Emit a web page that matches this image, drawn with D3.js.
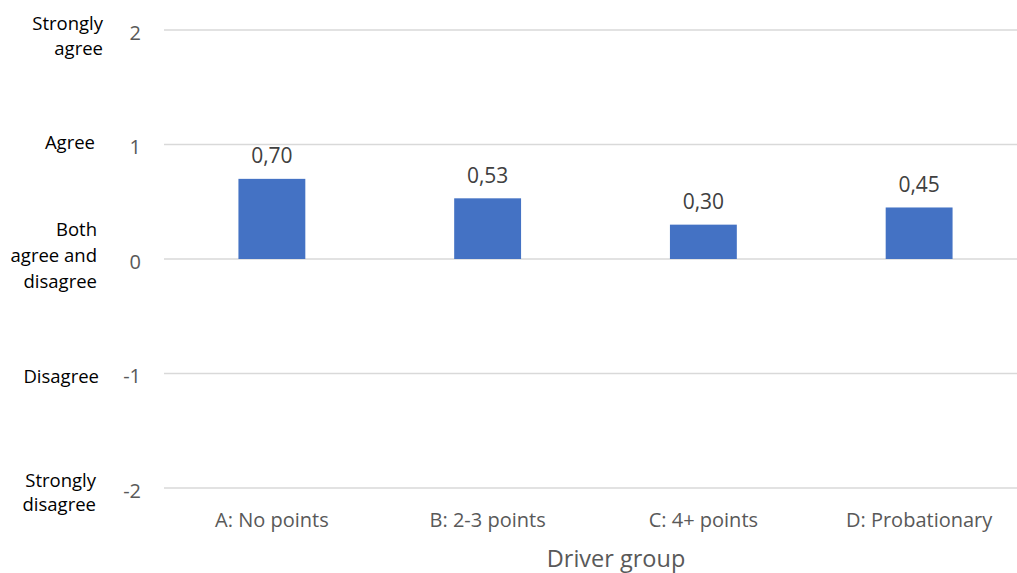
<!DOCTYPE html>
<html><head><meta charset="utf-8">
<script src="https://cdn.jsdelivr.net/npm/d3@7"></script>
<style>body{margin:0;background:#fff;}svg{display:block;font-family:"Open Sans",sans-serif;}</style>
</head><body><svg id="c" width="1017" height="573"></svg>
<script>
const categories = ["A: No points", "B: 2-3 points", "C: 4+ points", "D: Probationary"];
const values = [0.70, 0.53, 0.30, 0.45];
const yTicks = [-2, -1, 0, 1, 2];
const scaleValues = [2, 1, 0, -1, -2];
const scaleTexts = [["Strongly", "agree"], ["Agree"], ["Both", "agree and", "disagree"], ["Disagree"], ["Strongly", "disagree"]];
const xTitle = "Driver group";

// layout (not data): right edge and vertical nudge of each scale word label
const scaleLayout = [{r: 103, dy: 6}, {r: 95, dy: -2}, {r: 97, dy: -4}, {r: 99, dy: 3}, {r: 96, dy: 4.5}];

const svg = d3.select("#c");
const x = d3.scaleBand().domain(categories).range([164, 1027]).padding(0);
const y = d3.scaleLinear().domain([-2, 2]).range([488, 30]);
const barW = x.bandwidth() * 0.31;
const fmt = v => d3.format(".2f")(v).replace(".", ",");

// gridlines
svg.append("g").selectAll("line").data(yTicks).join("line")
  .attr("x1", 164).attr("x2", 1027)
  .attr("y1", d => y(d)).attr("y2", d => y(d))
  .attr("stroke", "#d9d9d9").attr("stroke-width", 1.3);

// y tick numbers
svg.append("g").selectAll("text").data(yTicks).join("text")
  .attr("x", 141).attr("y", d => y(d) + 2.5).attr("dy", "0.36em")
  .attr("text-anchor", "end").attr("fill", "#595959")
  .style("font-size", "20px").text(d => d);

// scale word labels
const lh = 24.5;
const lg = svg.append("g").attr("fill", "#000").style("font-size", "18.5px");
scaleValues.forEach((v, k) => {
  const lines = scaleTexts[k], n = lines.length, L = scaleLayout[k];
  lines.forEach((t, i) => {
    lg.append("text").attr("x", L.r).attr("text-anchor", "end")
      .attr("y", y(v) + (i - (n - 1) / 2) * (n === 3 ? 26 : lh) + L.dy)
      .attr("dy", "0.36em").text(t);
  });
});

// bars
svg.append("g").selectAll("rect").data(values).join("rect")
  .attr("x", (d, i) => x(categories[i]) + x.bandwidth() / 2 - barW / 2)
  .attr("width", barW)
  .attr("y", d => y(Math.max(0, d)))
  .attr("height", d => Math.abs(y(d) - y(0)))
  .attr("fill", "#4472c4");

// data labels
svg.append("g").selectAll("text").data(values).join("text")
  .attr("x", (d, i) => x(categories[i]) + x.bandwidth() / 2)
  .attr("y", d => y(d) - 15.5)
  .attr("text-anchor", "middle").attr("fill", "#404040")
  .style("font-size", "21px").text(d => fmt(d));

// category labels
svg.append("g").selectAll("text").data(categories).join("text")
  .attr("x", d => x(d) + x.bandwidth() / 2).attr("y", 520).attr("dy", "0.36em")
  .attr("text-anchor", "middle").attr("fill", "#595959")
  .style("font-size", "20px").text(d => d);

// axis title
svg.append("text").attr("x", 616).attr("y", 559).attr("dy", "0.36em")
  .attr("text-anchor", "middle").attr("fill", "#595959")
  .style("font-size", "23.5px").text(xTitle);
</script></body></html>
